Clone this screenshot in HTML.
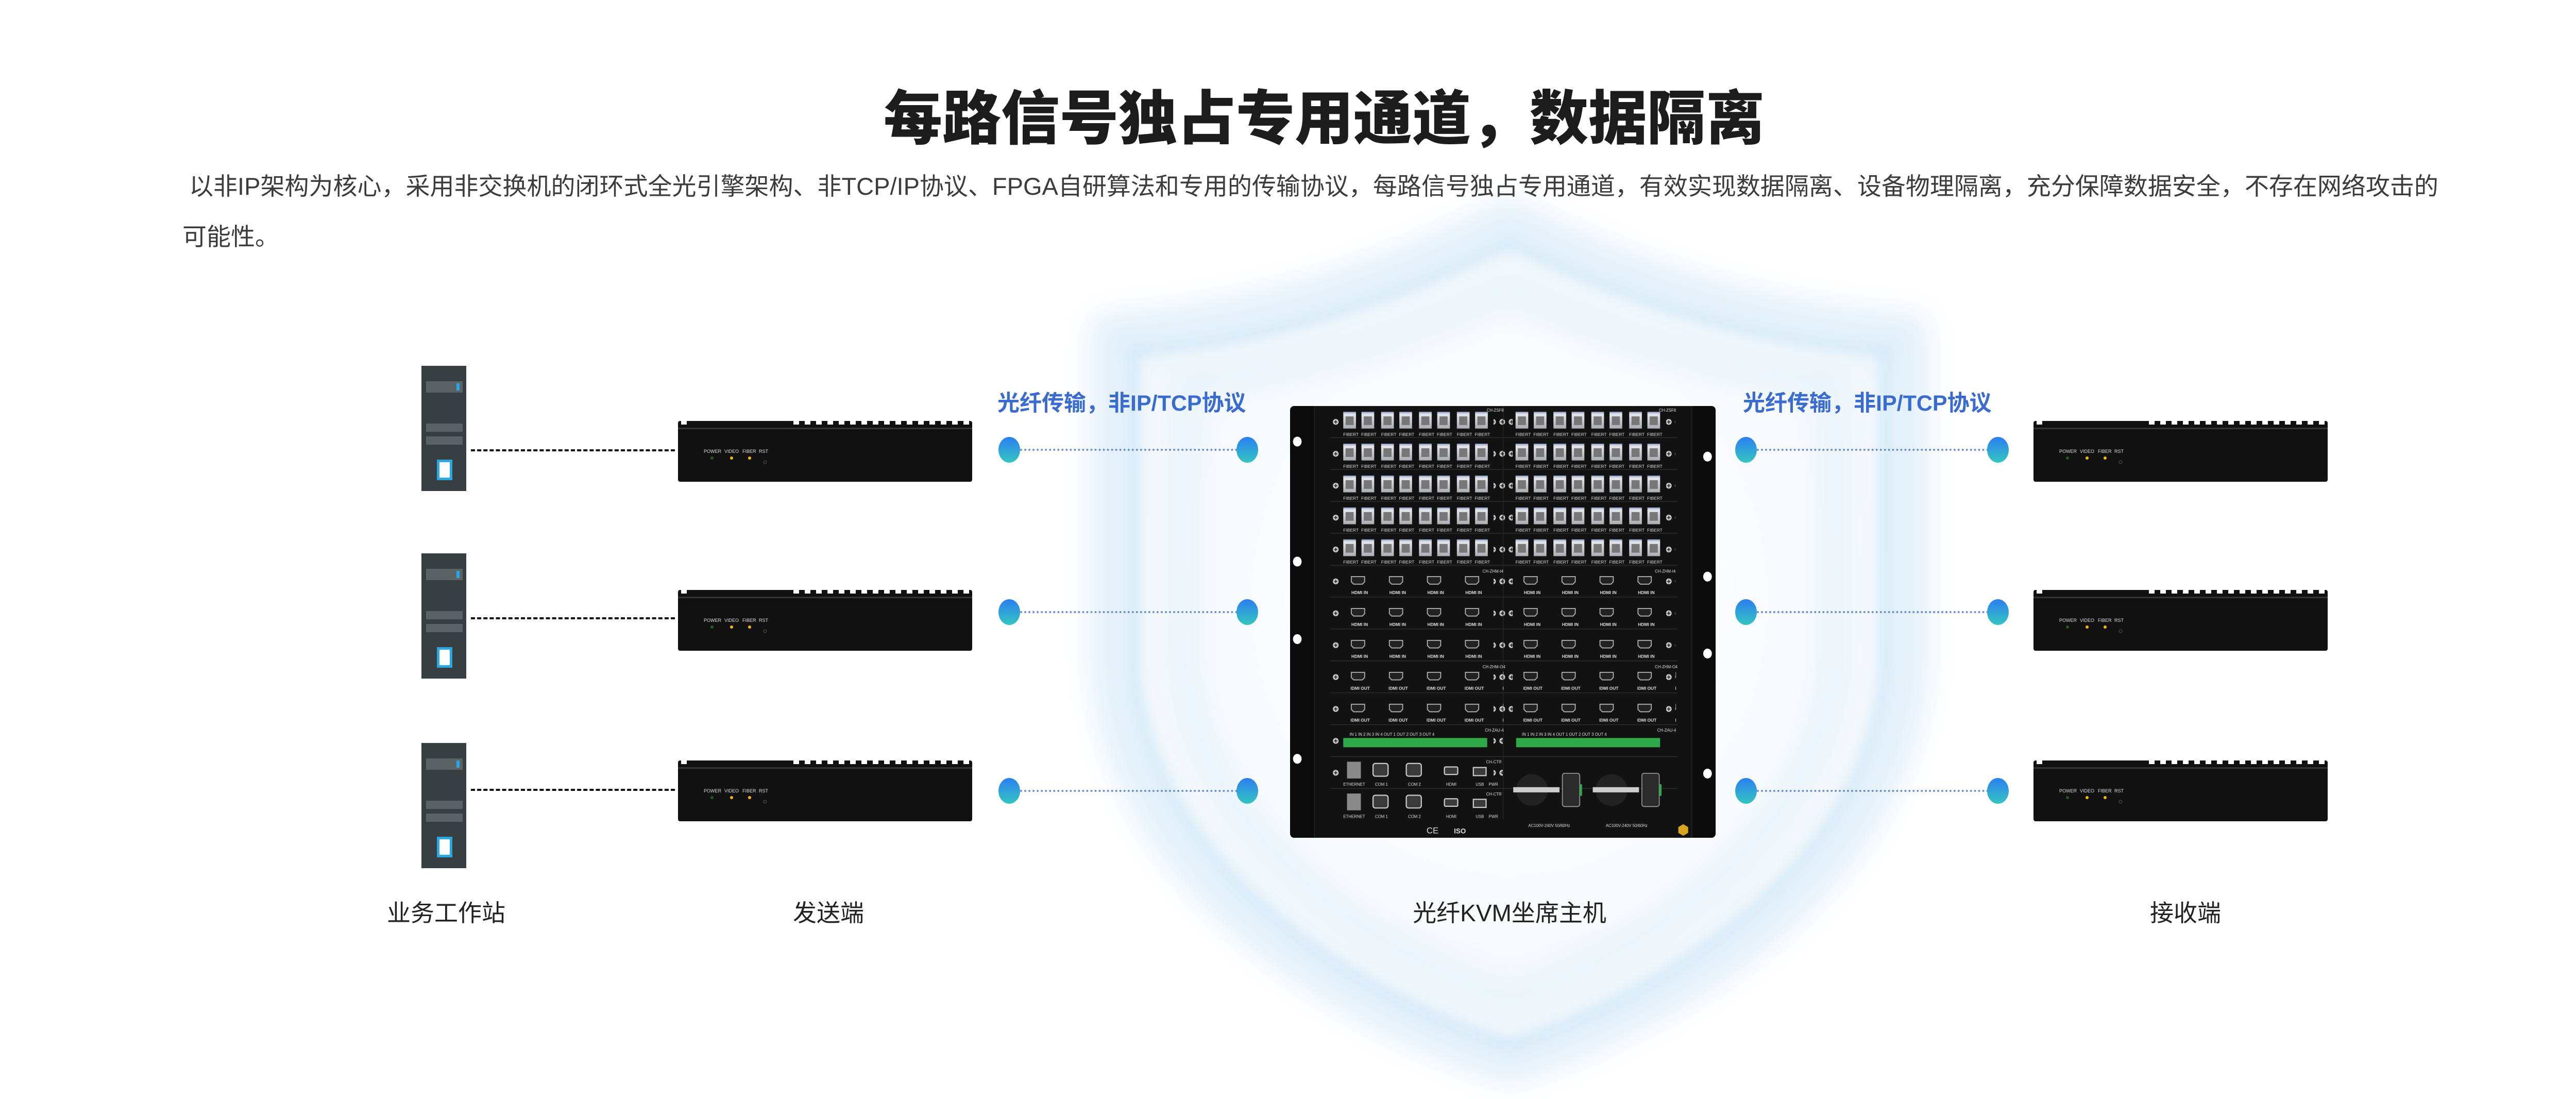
<!DOCTYPE html>
<html><head><meta charset="utf-8">
<style>
html,body{margin:0;padding:0;background:#fff;}
body{width:5119px;height:2133px;position:relative;overflow:hidden;font-family:"Liberation Sans","Noto Sans CJK SC",sans-serif;}
.abs{position:absolute;}
.title{left:0;width:5140px;top:152px;text-align:center;font-size:114px;font-weight:900;color:#1c1c1c;line-height:160px;}
.para{left:354px;top:313px;font-size:47px;color:#3c3c3c;line-height:98px;white-space:nowrap;}
.lbl{font-size:46px;color:#222;top:1736px;white-space:nowrap;transform:translateX(-50%);}
.blue{font-size:43px;font-weight:bold;color:#3a6cd0;top:748px;white-space:nowrap;}
.ws{width:87px;height:243px;background:#363e41;}
.ws .b{position:absolute;left:9px;width:71px;background:#5b6264;}
.dash{height:0;border-top:4px dashed #111;}
.dotl{height:0;border-top:4px dotted #6d8fd8;}
.dot{width:42px;height:50px;border-radius:50%;background:linear-gradient(#2b7ef2,#34c6c0);}
</style></head><body>

<svg class="abs" style="left:0;top:0" width="5119" height="2133" viewBox="0 0 5119 2133">
<defs>
<filter id="bl" x="-20%" y="-20%" width="140%" height="140%"><feGaussianBlur stdDeviation="30"/></filter>
<filter id="bl2" x="-20%" y="-20%" width="140%" height="140%"><feGaussianBlur stdDeviation="12"/></filter>
<radialGradient id="sf" cx="50%" cy="45%" r="60%"><stop offset="0" stop-color="#fff"/><stop offset="1" stop-color="#f3f8fc"/></radialGradient>
</defs>
<path d="M2930,430 C2700,550 2450,630 2160,650 L2160,1300 C2190,1700 2600,1950 2930,2060 C3260,1950 3670,1700 3700,1300 L3700,650 C3410,630 3160,550 2930,430 Z" fill="url(#sf)" stroke="#e1eff9" stroke-width="80" filter="url(#bl)"/>
<path d="M2930,470 C2710,580 2470,660 2200,680 L2200,1300 C2230,1680 2620,1930 2930,2030 C3240,1930 3630,1680 3660,1300 L3660,680 C3390,660 3150,580 2930,470 Z" fill="none" stroke="#cde6f6" stroke-width="18" opacity="0.8" filter="url(#bl2)"/>
<path d="M2930,560 C2740,650 2530,720 2300,740 L2300,1300 C2330,1620 2650,1840 2930,1940 C3210,1840 3530,1620 3560,1300 L3560,740 C3330,720 3120,650 2930,560 Z" fill="none" stroke="#e4f1fa" stroke-width="40" filter="url(#bl)"/>
</svg>

<div class="abs title">每路信号独占专用通道，数据隔离</div>
<div class="abs para">&nbsp;以非IP架构为核心，采用非交换机的闭环式全光引擎架构、非TCP/IP协议、FPGA自研算法和专用的传输协议，每路信号独占专用通道，有效实现数据隔离、设备物理隔离，充分保障数据安全，不存在网络攻击的<br>可能性。</div>

<div class="abs ws" style="left:818px;top:710px"><div class="b" style="top:30px;height:22px"></div><div class="abs" style="left:68px;top:34px;width:6px;height:14px;background:#2aa6e0"></div><div class="b" style="top:112px;height:16px"></div><div class="b" style="top:137px;height:16px"></div><div class="abs" style="left:30px;top:182px;width:20px;height:30px;background:#fff;border:5px solid #2aa6e0"></div></div>
<div class="abs ws" style="left:818px;top:1074px"><div class="b" style="top:30px;height:22px"></div><div class="abs" style="left:68px;top:34px;width:6px;height:14px;background:#2aa6e0"></div><div class="b" style="top:112px;height:16px"></div><div class="b" style="top:137px;height:16px"></div><div class="abs" style="left:30px;top:182px;width:20px;height:30px;background:#fff;border:5px solid #2aa6e0"></div></div>
<div class="abs ws" style="left:818px;top:1442px"><div class="b" style="top:30px;height:22px"></div><div class="abs" style="left:68px;top:34px;width:6px;height:14px;background:#2aa6e0"></div><div class="b" style="top:112px;height:16px"></div><div class="b" style="top:137px;height:16px"></div><div class="abs" style="left:30px;top:182px;width:20px;height:30px;background:#fff;border:5px solid #2aa6e0"></div></div>

<div class="abs dash" style="left:914px;top:872px;width:396px"></div>
<div class="abs dash" style="left:914px;top:1198px;width:396px"></div>
<div class="abs dash" style="left:914px;top:1531px;width:396px"></div>

<svg width="0" height="0" style="position:absolute">
<defs>
<symbol id="box" viewBox="0 0 571 118">
<rect x="0" y="0" width="571" height="118" rx="4" fill="#111"/>
<rect x="0" y="13" width="571" height="3" fill="#333"/>
<rect x="6" y="0" width="11" height="7" fill="#fff"/>
<g fill="#fff">
<rect x="224" y="0" width="11" height="7"/><rect x="246" y="0" width="11" height="7"/><rect x="268" y="0" width="11" height="7"/><rect x="290" y="0" width="11" height="7"/><rect x="312" y="0" width="11" height="7"/><rect x="334" y="0" width="11" height="7"/><rect x="356" y="0" width="11" height="7"/><rect x="378" y="0" width="11" height="7"/><rect x="400" y="0" width="11" height="7"/><rect x="422" y="0" width="11" height="7"/><rect x="444" y="0" width="11" height="7"/><rect x="466" y="0" width="11" height="7"/><rect x="488" y="0" width="11" height="7"/><rect x="510" y="0" width="11" height="7"/><rect x="532" y="0" width="11" height="7"/><rect x="554" y="0" width="11" height="7"/>
</g>
<g font-family="Liberation Sans" font-size="9" fill="#ddd"><text x="50" y="62">POWER</text><text x="90" y="62">VIDEO</text><text x="125" y="62">FIBER</text><text x="157" y="62">RST</text></g>
<circle cx="66" cy="72" r="3" fill="#1d5a2a"/><circle cx="104" cy="72" r="3" fill="#f5b800"/><circle cx="139" cy="72" r="3" fill="#f5b800"/><circle cx="169" cy="80" r="3" fill="none" stroke="#555"/>
</symbol>
</defs></svg>

<svg class="abs" style="left:1316px;top:817px" width="571" height="118"><use href="#box"/></svg>
<svg class="abs" style="left:1316px;top:1145px" width="571" height="118"><use href="#box"/></svg>
<svg class="abs" style="left:1316px;top:1476px" width="571" height="118"><use href="#box"/></svg>
<svg class="abs" style="left:3947px;top:817px" width="571" height="118"><use href="#box"/></svg>
<svg class="abs" style="left:3947px;top:1145px" width="571" height="118"><use href="#box"/></svg>
<svg class="abs" style="left:3947px;top:1476px" width="571" height="118"><use href="#box"/></svg>

<div class="abs blue" style="left:1936px">光纤传输，非IP/TCP协议</div>
<div class="abs blue" style="left:3383px">光纤传输，非IP/TCP协议</div>

<div class="abs dotl" style="left:1980px;top:871px;width:430px"></div>
<div class="abs dotl" style="left:1980px;top:1186px;width:430px"></div>
<div class="abs dotl" style="left:1980px;top:1533px;width:430px"></div>
<div class="abs dotl" style="left:3410px;top:871px;width:450px"></div>
<div class="abs dotl" style="left:3410px;top:1186px;width:450px"></div>
<div class="abs dotl" style="left:3410px;top:1533px;width:450px"></div>

<div class="abs dot" style="left:1938px;top:848px"></div>
<div class="abs dot" style="left:2400px;top:848px"></div>
<div class="abs dot" style="left:1938px;top:1163px"></div>
<div class="abs dot" style="left:2400px;top:1163px"></div>
<div class="abs dot" style="left:1938px;top:1510px"></div>
<div class="abs dot" style="left:2400px;top:1510px"></div>
<div class="abs dot" style="left:3368px;top:848px"></div>
<div class="abs dot" style="left:3857px;top:848px"></div>
<div class="abs dot" style="left:3368px;top:1163px"></div>
<div class="abs dot" style="left:3857px;top:1163px"></div>
<div class="abs dot" style="left:3368px;top:1510px"></div>
<div class="abs dot" style="left:3857px;top:1510px"></div>

<svg class="abs" style="left:2504px;top:788px" width="826" height="838" viewBox="8 32 1472 1493" preserveAspectRatio="none">
<defs>
<linearGradient id="pg" x1="0" y1="0" x2="0" y2="1"><stop offset="0" stop-color="#8a9fc8"/><stop offset="0.15" stop-color="#e4e6ea"/><stop offset="1" stop-color="#a9adb2"/></linearGradient>
<pattern id="fp" patternUnits="userSpaceOnUse" x="192" y="52" width="131" height="110.3">
<rect x="0" y="0" width="44" height="58" fill="url(#pg)"/><rect x="8" y="16" width="28" height="30" fill="#777"/>
<rect x="63" y="0" width="44" height="58" fill="url(#pg)"/><rect x="71" y="16" width="28" height="30" fill="#777"/>
<text x="0" y="84" font-size="15" font-family="Liberation Sans" fill="#ddd">FIBERT</text><text x="62" y="84" font-size="15" font-family="Liberation Sans" fill="#ddd">FIBERT</text>
</pattern>
<pattern id="fp2" patternUnits="userSpaceOnUse" x="788" y="52" width="131" height="110.3">
<rect x="0" y="0" width="44" height="58" fill="url(#pg)"/><rect x="8" y="16" width="28" height="30" fill="#777"/>
<rect x="63" y="0" width="44" height="58" fill="url(#pg)"/><rect x="71" y="16" width="28" height="30" fill="#777"/>
<text x="0" y="84" font-size="15" font-family="Liberation Sans" fill="#ddd">FIBERT</text><text x="62" y="84" font-size="15" font-family="Liberation Sans" fill="#ddd">FIBERT</text>
</pattern>
<pattern id="hi" patternUnits="userSpaceOnUse" x="218" y="620" width="131.5" height="110.3">
<path d="M2,2 H48 V20 L40,28 H10 L2,20 Z" fill="#222" stroke="#bbb" stroke-width="3"/>
<text x="2" y="62" font-size="15" font-weight="bold" font-family="Liberation Sans" fill="#ddd">HDMI IN</text>
</pattern>
<pattern id="hi2" patternUnits="userSpaceOnUse" x="815" y="620" width="131.5" height="110.3">
<path d="M2,2 H48 V20 L40,28 H10 L2,20 Z" fill="#222" stroke="#bbb" stroke-width="3"/>
<text x="2" y="62" font-size="15" font-weight="bold" font-family="Liberation Sans" fill="#ddd">HDMI IN</text>
</pattern>
<pattern id="ho" patternUnits="userSpaceOnUse" x="218" y="951" width="131.5" height="110.3">
<path d="M2,2 H48 V20 L40,28 H10 L2,20 Z" fill="#222" stroke="#bbb" stroke-width="3"/>
<text x="-8" y="62" font-size="15" font-weight="bold" font-family="Liberation Sans" fill="#ddd">HDMI OUT</text>
</pattern>
<pattern id="ho2" patternUnits="userSpaceOnUse" x="815" y="951" width="131.5" height="110.3">
<path d="M2,2 H48 V20 L40,28 H10 L2,20 Z" fill="#222" stroke="#bbb" stroke-width="3"/>
<text x="-8" y="62" font-size="15" font-weight="bold" font-family="Liberation Sans" fill="#ddd">HDMI OUT</text>
</pattern>
<pattern id="sc" patternUnits="userSpaceOnUse" x="150" y="32" width="32" height="110.3">
<circle cx="16" cy="55" r="10" fill="#ccc"/><path d="M10,55 H22 M16,49 V61" stroke="#222" stroke-width="3"/>
</pattern>
<pattern id="sep" patternUnits="userSpaceOnUse" x="0" y="30" width="10" height="110.3">
<rect x="0" y="0" width="10" height="2" fill="#333"/>
</pattern>
</defs>
<rect x="8" y="32" width="1472" height="1493" rx="14" fill="#0b0b0b"/>
<rect x="92" y="32" width="1306" height="1493" fill="#121212" stroke="#2a2a2a" stroke-width="2"/>
<rect x="148" y="140" width="1200" height="1220" fill="url(#sep)"/>
<rect x="744" y="32" width="2" height="1430" fill="#2a2a2a"/>
<rect x="190" y="50" width="524" height="552" fill="url(#fp)"/>
<rect x="786" y="50" width="524" height="552" fill="url(#fp2)"/>
<rect x="214" y="616" width="530" height="331" fill="url(#hi)"/>
<rect x="811" y="616" width="530" height="331" fill="url(#hi2)"/>
<rect x="206" y="947" width="540" height="221" fill="url(#ho)"/>
<rect x="803" y="947" width="540" height="221" fill="url(#ho2)"/>
<rect x="150" y="32" width="32" height="1324" fill="url(#sc)"/>
<rect x="712" y="32" width="32" height="1324" fill="url(#sc)"/>
<rect x="746" y="32" width="32" height="1104" fill="url(#sc)"/>
<rect x="1309" y="32" width="32" height="1104" fill="url(#sc)"/>
<g font-family="Liberation Sans" font-size="14" fill="#ddd">
<text x="688" y="52">CH-ZSF8</text><text x="1284" y="52">CH-ZSF8</text>
<text x="674" y="608">CH-ZHM-I4</text><text x="1270" y="608">CH-ZHM-I4</text>
<text x="674" y="939">CH-ZHM-O4</text><text x="1270" y="939">CH-ZHM-O4</text>
<text x="682" y="1158">CH-ZAU-4</text><text x="1278" y="1158">CH-ZAU-4</text>
<text x="686" y="1268">CH-CTR</text><text x="686" y="1379">CH-CTR</text>
<text x="214" y="1172">IN 1   IN 2   IN 3   IN 4   OUT 1  OUT 2  OUT 3  OUT 4</text>
<text x="810" y="1172">IN 1   IN 2   IN 3   IN 4   OUT 1  OUT 2  OUT 3  OUT 4</text>
<text x="192" y="1345">ETHERNET</text><text x="302" y="1345">COM 1</text><text x="416" y="1345">COM 2</text><text x="548" y="1345">HDMI</text><text x="650" y="1345">USB</text><text x="695" y="1345">PWR</text>
<text x="192" y="1456">ETHERNET</text><text x="302" y="1456">COM 1</text><text x="416" y="1456">COM 2</text><text x="548" y="1456">HDMI</text><text x="650" y="1456">USB</text><text x="695" y="1456">PWR</text>
<text x="832" y="1488">AC100V-240V 50/60Hz</text><text x="1100" y="1488">AC100V-240V 50/60Hz</text>
<text x="480" y="1510" font-size="30">CE</text><text x="575" y="1510" font-size="24" font-weight="bold">ISO</text>
</g>
<rect x="192" y="1180" width="498" height="32" fill="#2fa84a"/>
<rect x="790" y="1180" width="498" height="32" fill="#2fa84a"/>
<rect x="205" y="1262" width="48" height="58" fill="#8a8a8a"/><rect x="205" y="1372" width="48" height="58" fill="#8a8a8a"/>
<g fill="#3a3a3a" stroke="#ccc" stroke-width="4">
<rect x="295" y="1268" width="52" height="44" rx="8"/><rect x="410" y="1268" width="52" height="44" rx="8"/>
<rect x="295" y="1378" width="52" height="44" rx="8"/><rect x="410" y="1378" width="52" height="44" rx="8"/>
<rect x="542" y="1280" width="46" height="26" rx="4"/><rect x="542" y="1390" width="46" height="26" rx="4"/>
<rect x="642" y="1282" width="44" height="28"/><rect x="642" y="1392" width="44" height="28"/>
</g>
<g fill="#222"><circle cx="845" cy="1360" r="55"/><circle cx="1120" cy="1360" r="55"/></g>
<rect x="780" y="1350" width="160" height="18" fill="#ccc"/><rect x="1055" y="1350" width="160" height="18" fill="#ccc"/>
<rect x="950" y="1302" width="60" height="115" rx="8" fill="#2a2a2a" stroke="#999" stroke-width="3"/>
<rect x="1225" y="1302" width="60" height="115" rx="8" fill="#2a2a2a" stroke="#999" stroke-width="3"/>
<rect x="1010" y="1340" width="8" height="40" fill="#2fa84a"/><rect x="1285" y="1340" width="8" height="40" fill="#2fa84a"/>
<path d="M1368,1478 L1385,1488 V1508 L1368,1518 L1351,1508 V1488 Z" fill="#d9a520"/>
<g fill="#fff"><ellipse cx="33" cy="155" rx="15" ry="17"/><ellipse cx="33" cy="570" rx="15" ry="17"/><ellipse cx="33" cy="838" rx="15" ry="17"/><ellipse cx="33" cy="1252" rx="15" ry="17"/>
<ellipse cx="1452" cy="207" rx="15" ry="17"/><ellipse cx="1452" cy="622" rx="15" ry="17"/><ellipse cx="1452" cy="888" rx="15" ry="17"/><ellipse cx="1452" cy="1303" rx="15" ry="17"/></g>
</svg>

<div class="abs lbl" style="left:866px">业务工作站</div>
<div class="abs lbl" style="left:1608px">发送端</div>
<div class="abs lbl" style="left:2930px">光纤KVM坐席主机</div>
<div class="abs lbl" style="left:4242px">接收端</div>
</body></html>
